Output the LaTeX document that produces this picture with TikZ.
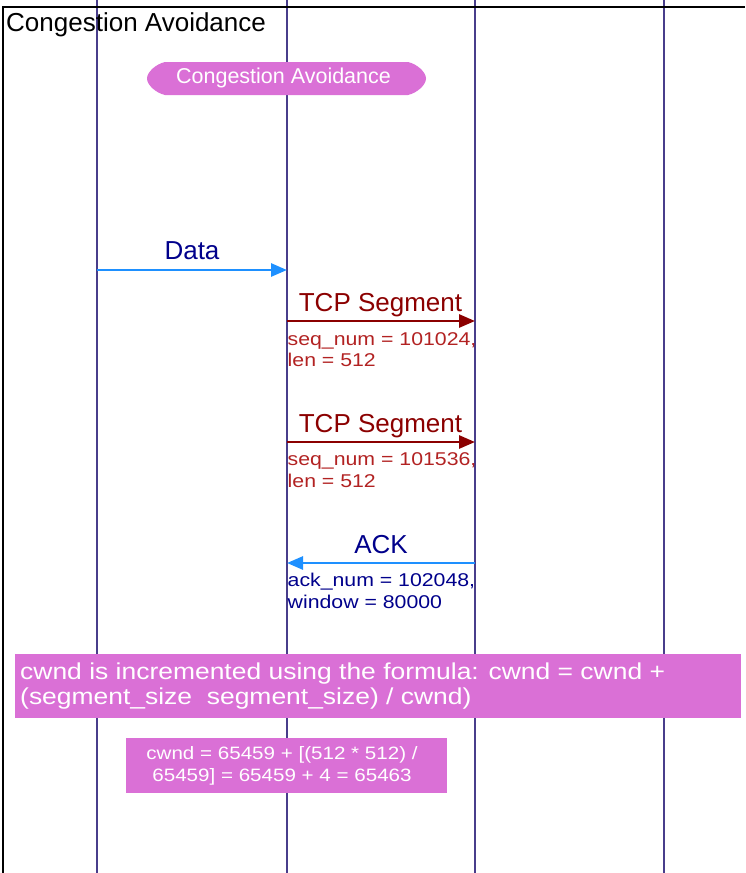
\documentclass[tikz,border=0pt]{standalone}
\usepackage{fontspec}
\setmainfont{Liberation Sans}
\newfontfamily\notefont[FakeStretch=1.15]{Liberation Sans}
\usetikzlibrary{arrows.meta, positioning}

\definecolor{LifeBlue}{RGB}{72, 61, 139}
\definecolor{MsgBlue}{RGB}{30, 144, 255}
\definecolor{MsgNavy}{RGB}{0, 0, 139}
\definecolor{SegRed}{RGB}{139, 0, 0}
\definecolor{SegBrick}{RGB}{178, 34, 34}
\definecolor{PhaseOrchid}{RGB}{218, 112, 214}

\begin{document}
\begin{tikzpicture}[x=1pt, y=-1pt,
        life/.style={LifeBlue, line width=1.8pt},
        msg/.style={-{Triangle[length=16pt, width=13pt]}, line width=2.8pt},
        msglabel/.style={anchor=base, inner sep=0pt, font=\fontsize{26}{28}\selectfont},
        note/.style={anchor=base west, inner sep=0pt, align=left, font=\notefont\fontsize{18.5}{21.7}\selectfont},
        orchidbox/.style={fill=PhaseOrchid, inner sep=0pt, anchor=north west}]

        \useasboundingbox (0,0) rectangle (745,873);

        \coordinate (l1top) at (97,0);
        \coordinate (l2top) at (287,0);
        \coordinate (l3top) at (475,0);
        \coordinate (l4top) at (664,0);
        \coordinate (l1bot) at (97,873);
        \coordinate (l2bot) at (287,873);
        \coordinate (l3bot) at (475,873);
        \coordinate (l4bot) at (664,873);

        \draw[life] (l1top) -- (l1bot);
        \draw[life] (l2top) -- (l2bot);
        \draw[life] (l3top) -- (l3bot);
        \draw[life] (l4top) -- (l4bot);

        \draw[line width=2pt] (3,873) -- (3,7) -- (745,7);
        \node[anchor=base west, inner sep=0pt, font=\fontsize{26}{28}\selectfont] (title) at (6,31) {Congestion Avoidance};

        % phase marker
        \fill[PhaseOrchid] (165,62) -- (408,62) .. controls (417,64) and (426,72) .. (426,78.5)
            .. controls (426,85) and (417,93) .. (408,95) -- (165,95)
            .. controls (156,93) and (147,85) .. (147,78.5)
            .. controls (147,72) and (156,64) .. cycle;
        \node[anchor=base, inner sep=0pt, text=white, font=\fontsize{21.5}{24}\selectfont] (phase) at (283.5,83) {Congestion Avoidance};

        \coordinate (dataS) at (97,270);
        \coordinate (dataE) at (287,270);
        \coordinate (seg1S) at (287,321);
        \coordinate (seg1E) at (475,321);
        \coordinate (seg2S) at (287,442);
        \coordinate (seg2E) at (475,442);
        \coordinate (ackS) at (475,563);
        \coordinate (ackE) at (287,563);

        \draw[msg, MsgBlue] (dataS) -- (dataE);
        \draw[msg, SegRed] (seg1S) -- (seg1E);
        \draw[msg, SegRed] (seg2S) -- (seg2E);
        \draw[msg, MsgBlue] (ackS) -- (ackE);

        \node[msglabel, text=MsgNavy] (dataL) at (192,259.5) {Data};
        \node[msglabel, text=SegRed] (seg1L) at (380.5,311) {TCP Segment};
        \node[msglabel, text=SegRed] (seg2L) at (380.5,432) {TCP Segment};
        \node[msglabel, text=MsgNavy] (ackL) at (381,553) {ACK};

        \node[note, text=SegBrick] (seg1N) at (287.5,366.7) {seq\_num = 101024,\\len = 512};
        \node[note, text=SegBrick] (seg2N) at (287.5,487.2) {seq\_num = 101536,\\len = 512};
        \node[note, text=MsgNavy] (ackN) at (287.5,608.5) {ack\_num = 102048,\\window = 80000};

        % formula notes
        \node[orchidbox, minimum width=726pt, minimum height=64.5pt] (formula) at (15,653.5) {};
        \node[anchor=base west, inner sep=0pt, align=left, text=white,
              font=\notefont\fontsize{23}{24.5}\selectfont] (formulaT) at (20,704)
              {cwnd is incremented using the formula: cwnd = cwnd +\\(segment\_size\ \ segment\_size) / cwnd)};

        \node[orchidbox, minimum width=321pt, minimum height=55pt] (calc) at (126,738) {};
        \node[anchor=base, inner sep=0pt, align=center, text=white,
              font=\notefont\fontsize{17.9}{22.4}\selectfont] (calcT) at (282,781.8)
              {cwnd = 65459 + [(512 * 512) /\\65459] = 65459 + 4 = 65463};
    \end{tikzpicture}
\end{document}
